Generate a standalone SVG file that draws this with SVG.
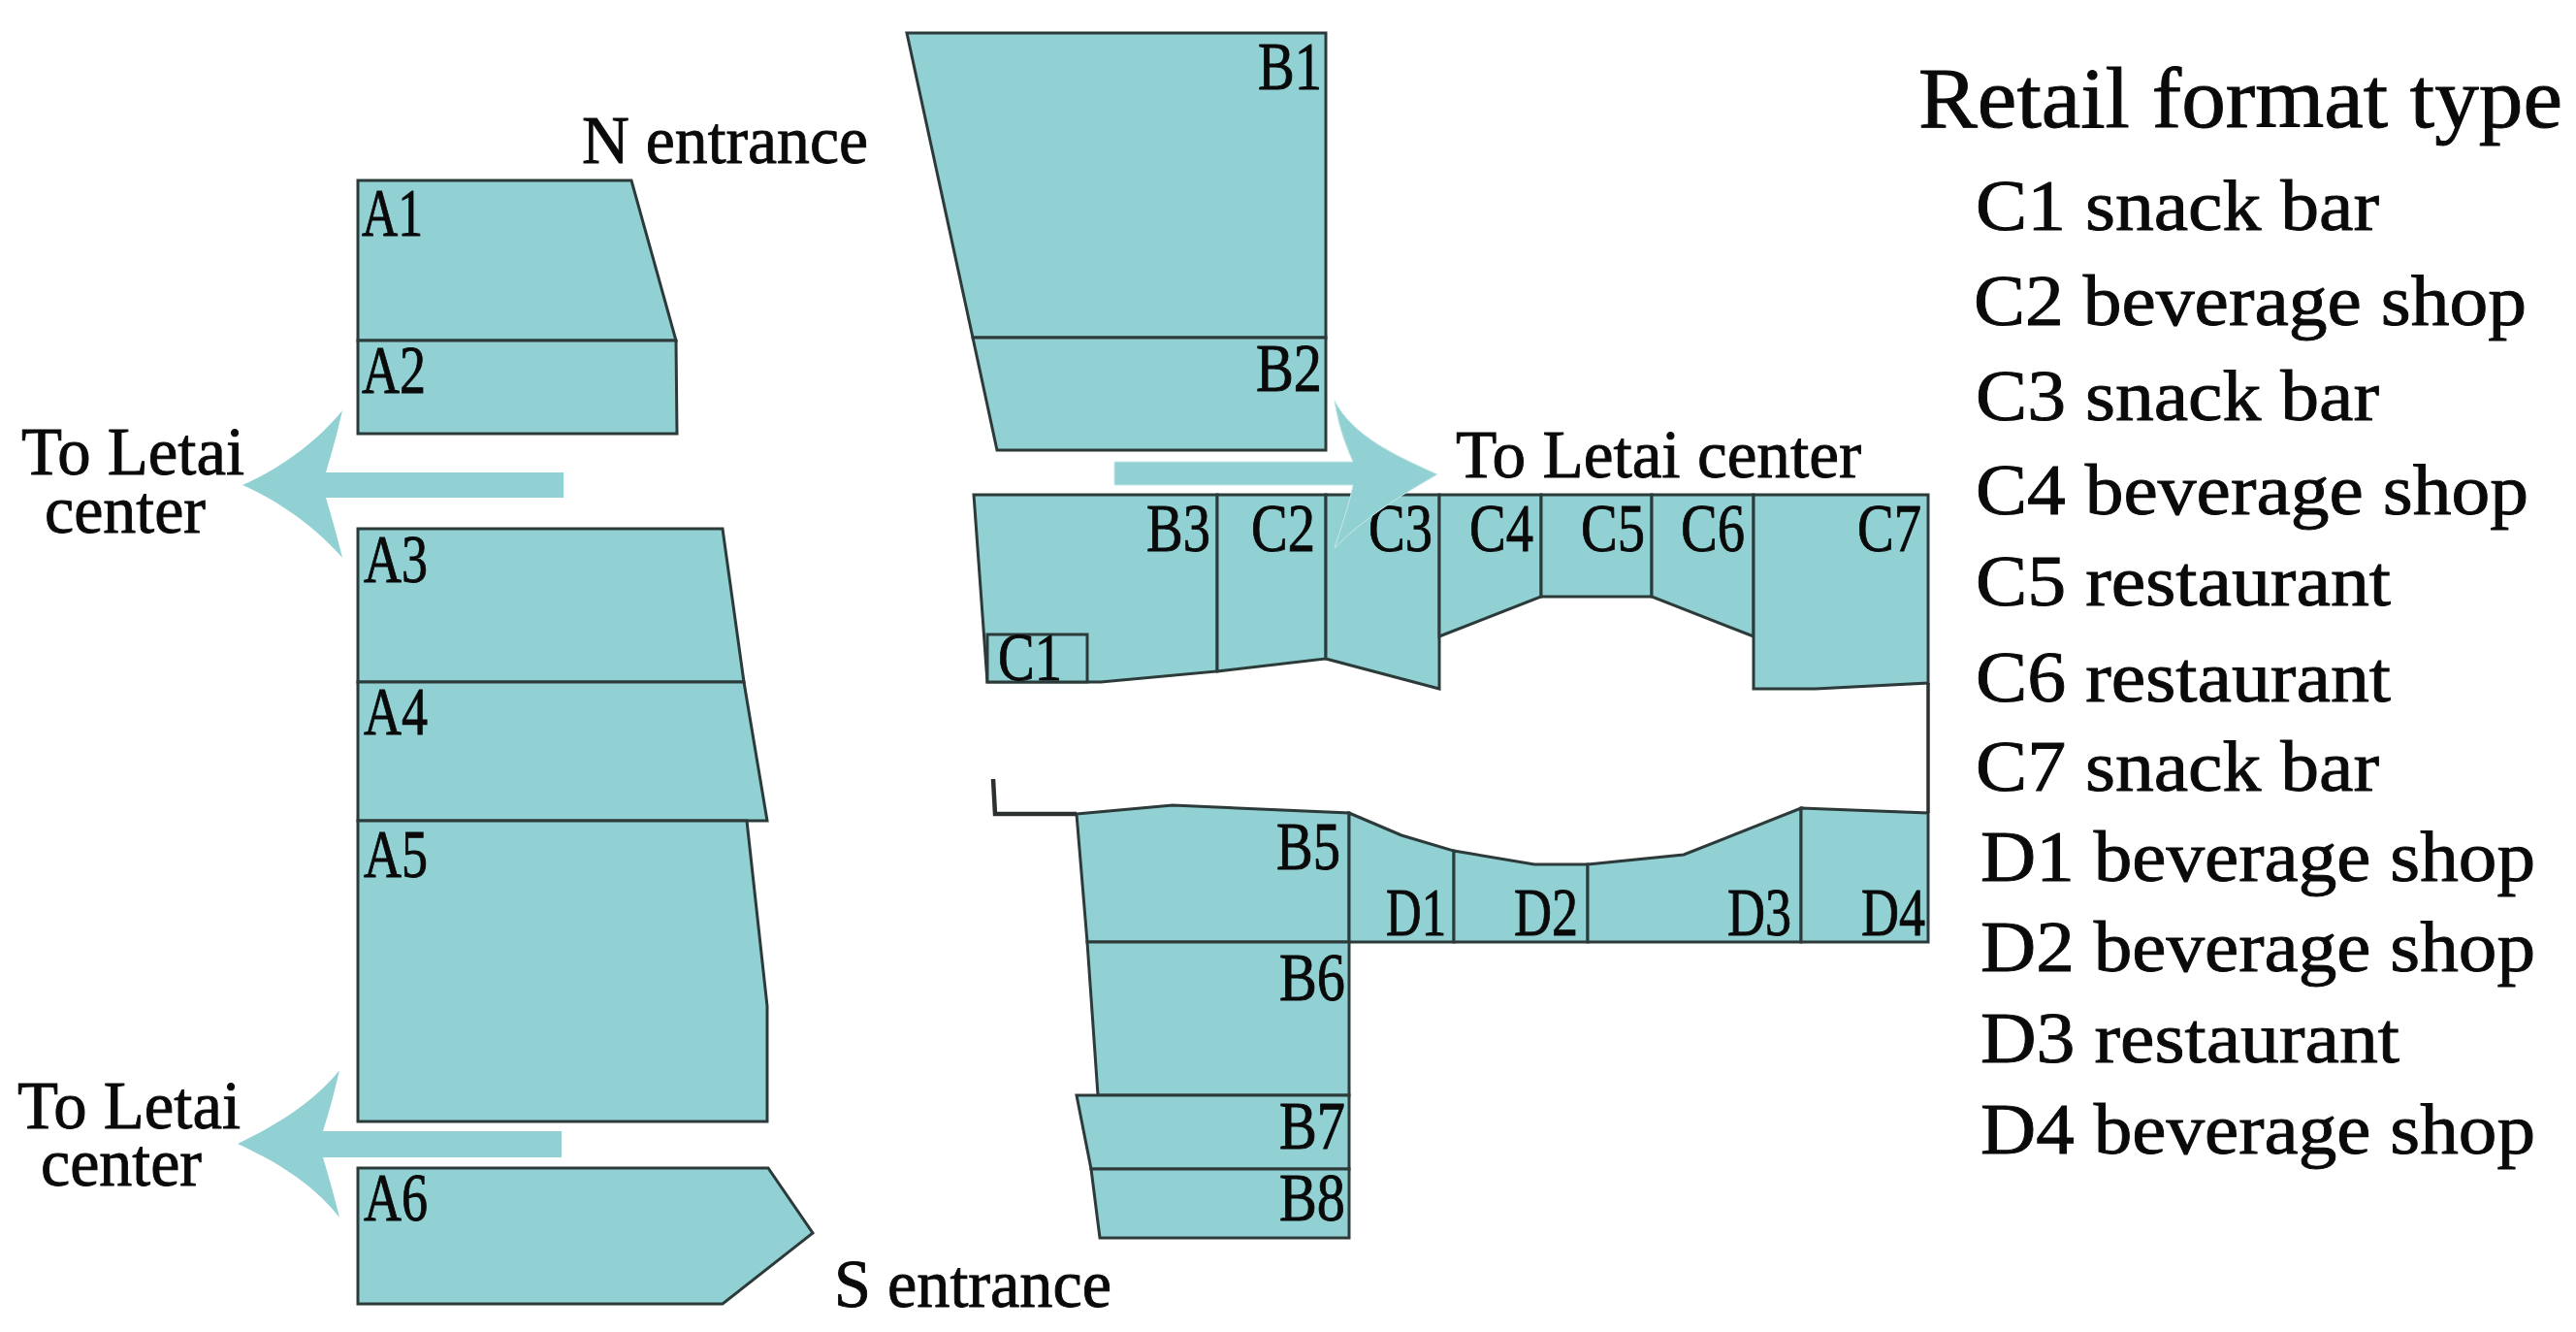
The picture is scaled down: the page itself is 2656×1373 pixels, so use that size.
<svg xmlns="http://www.w3.org/2000/svg" width="2656" height="1373" viewBox="0 0 2656 1373">
<style>
.s{fill:#92d1d3;stroke:#2c3a3a;stroke-width:3;stroke-linejoin:miter}
.a{fill:#92d1d3;stroke:none}
.l{fill:none;stroke:#2c3030;stroke-width:3.5}
text{font-family:"Liberation Serif","Times New Roman",serif;fill:#0a0a0a;stroke:#0a0a0a;stroke-width:.9}
.n{font-size:70px}
.t{font-size:70px}
.i{font-size:74px}
.h{font-size:88px}
</style>
<rect width="2656" height="1373" fill="#fff"/>
<g id="connectors">
<path class="a" d="M250 500C290 483 330 452 353 423C347 450 341 470 336 487H581V513H336C341 530 347 550 353 575C330 548 290 517 250 500Z"/>
<path class="a" d="M245 1179C285 1160 325 1135 350 1103C344 1130 338 1150 333 1166H579V1193H333C338 1210 344 1230 350 1255C325 1222 285 1197 245 1179Z"/>
</g>
<g id="A1"><path class="s" d="M369 186H651L697 351H369Z"/><text class="n" x="373" y="243" textLength="63" lengthAdjust="spacingAndGlyphs">A1</text></g>
<g id="A2"><path class="s" d="M369 351H697L698 447H369Z"/><text class="n" x="373" y="405" textLength="66" lengthAdjust="spacingAndGlyphs">A2</text></g>
<g id="A3"><path class="s" d="M369 545H745L767 703H369Z"/><text class="n" x="375" y="600" textLength="66" lengthAdjust="spacingAndGlyphs">A3</text></g>
<g id="A4"><path class="s" d="M369 703H767L791 846H369Z"/><text class="n" x="375" y="757" textLength="66" lengthAdjust="spacingAndGlyphs">A4</text></g>
<g id="A5"><path class="s" d="M369 846H770L791 1037V1156H369Z"/><text class="n" x="375" y="904" textLength="66" lengthAdjust="spacingAndGlyphs">A5</text></g>
<g id="A6"><path class="s" d="M369 1204H792L838 1271L745 1344H369Z"/><text class="n" x="375" y="1258" textLength="66" lengthAdjust="spacingAndGlyphs">A6</text></g>
<g id="B1"><path class="s" d="M935 34H1367V348H1003Z"/><text class="n" x="1297" y="92" textLength="66" lengthAdjust="spacingAndGlyphs">B1</text></g>
<g id="B2"><path class="s" d="M1003 348H1367V464H1028Z"/><text class="n" x="1295" y="403" textLength="68" lengthAdjust="spacingAndGlyphs">B2</text></g>
<g id="B3"><path class="s" d="M1004 510H1255V692L1135 703H1018Z"/><text class="n" x="1182" y="568" textLength="66" lengthAdjust="spacingAndGlyphs">B3</text></g>
<g id="C1"><path class="s" d="M1018 654H1121V703H1018Z"/><text class="n" x="1029" y="701" textLength="66" lengthAdjust="spacingAndGlyphs">C1</text></g>
<g id="C2"><path class="s" d="M1255 510H1367V679L1255 692Z"/><text class="n" x="1290" y="568" textLength="66" lengthAdjust="spacingAndGlyphs">C2</text></g>
<g id="C3"><path class="s" d="M1367 510H1484V710L1367 679Z"/><text class="n" x="1411" y="568" textLength="66" lengthAdjust="spacingAndGlyphs">C3</text></g>
<g id="C4"><path class="s" d="M1484 510H1589V615L1484 656Z"/><text class="n" x="1515" y="568" textLength="66" lengthAdjust="spacingAndGlyphs">C4</text></g>
<g id="C5"><path class="s" d="M1589 510H1703V615H1589Z"/><text class="n" x="1630" y="568" textLength="66" lengthAdjust="spacingAndGlyphs">C5</text></g>
<g id="C6"><path class="s" d="M1703 510H1808V656L1703 615Z"/><text class="n" x="1733" y="568" textLength="66" lengthAdjust="spacingAndGlyphs">C6</text></g>
<g id="C7"><path class="s" d="M1808 510H1988V704L1872 710H1808Z"/><text class="n" x="1915" y="568" textLength="66" lengthAdjust="spacingAndGlyphs">C7</text></g>
<g id="B5"><path class="s" d="M1110 839L1209 830L1391 838V971H1121Z"/><text class="n" x="1316" y="896" textLength="66" lengthAdjust="spacingAndGlyphs">B5</text></g>
<g id="D1"><path class="s" d="M1391 838L1445 861L1499 877V971H1391Z"/><text class="n" x="1429" y="964" textLength="62" lengthAdjust="spacingAndGlyphs">D1</text></g>
<g id="D2"><path class="s" d="M1499 877L1582 891H1637V971H1499Z"/><text class="n" x="1561" y="964" textLength="66" lengthAdjust="spacingAndGlyphs">D2</text></g>
<g id="D3"><path class="s" d="M1637 891L1736 881L1857 833V971H1637Z"/><text class="n" x="1781" y="964" textLength="66" lengthAdjust="spacingAndGlyphs">D3</text></g>
<g id="D4"><path class="s" d="M1857 833L1988 838V971H1857Z"/><text class="n" x="1919" y="964" textLength="66" lengthAdjust="spacingAndGlyphs">D4</text></g>
<g id="B6"><path class="s" d="M1121 971H1391V1129H1132Z"/><text class="n" x="1319" y="1031" textLength="68" lengthAdjust="spacingAndGlyphs">B6</text></g>
<g id="B7"><path class="s" d="M1110 1129H1391V1205H1125Z"/><text class="n" x="1319" y="1184" textLength="68" lengthAdjust="spacingAndGlyphs">B7</text></g>
<g id="B8"><path class="s" d="M1125 1205H1391V1276H1134Z"/><text class="n" x="1319" y="1258" textLength="68" lengthAdjust="spacingAndGlyphs">B8</text></g>
<g id="walls">
<path class="l" d="M1988 704V838"/>
<path class="l" style="stroke-width:4.5" d="M1024 803L1026 839H1110"/>
</g>
<path class="a" id="arrow-right" style="stroke:#c8e6e7;stroke-width:1" d="M1482 489C1440 470 1395 450 1376 413C1380 440 1388 460 1395 476H1149V500H1395C1390 525 1382 545 1376 565C1405 535 1445 510 1482 489Z"/>
<g id="labels">
<text class="t" x="600" y="168" textLength="295" lengthAdjust="spacingAndGlyphs">N entrance</text>
<text class="t" x="22" y="489" textLength="230" lengthAdjust="spacingAndGlyphs">To Letai</text>
<text class="t" x="46" y="549" textLength="166" lengthAdjust="spacingAndGlyphs">center</text>
<text class="t" x="18" y="1163" textLength="230" lengthAdjust="spacingAndGlyphs">To Letai</text>
<text class="t" x="42" y="1222" textLength="166" lengthAdjust="spacingAndGlyphs">center</text>
<text class="t" x="860" y="1347" textLength="286" lengthAdjust="spacingAndGlyphs">S entrance</text>
<text class="t" x="1501" y="492" textLength="418" lengthAdjust="spacingAndGlyphs">To Letai center</text>
</g>
<g id="legend">
<text class="h" x="1978" y="131" textLength="664" lengthAdjust="spacingAndGlyphs">Retail format type</text>
<text class="i" x="2037" y="237" textLength="416" lengthAdjust="spacingAndGlyphs">C1 snack bar</text>
<text class="i" x="2035" y="335" textLength="570" lengthAdjust="spacingAndGlyphs">C2 beverage shop</text>
<text class="i" x="2037" y="433" textLength="416" lengthAdjust="spacingAndGlyphs">C3 snack bar</text>
<text class="i" x="2037" y="530" textLength="570" lengthAdjust="spacingAndGlyphs">C4 beverage shop</text>
<text class="i" x="2037" y="624" textLength="428" lengthAdjust="spacingAndGlyphs">C5 restaurant</text>
<text class="i" x="2037" y="723" textLength="428" lengthAdjust="spacingAndGlyphs">C6 restaurant</text>
<text class="i" x="2037" y="815" textLength="416" lengthAdjust="spacingAndGlyphs">C7 snack bar</text>
<text class="i" x="2042" y="908" textLength="572" lengthAdjust="spacingAndGlyphs">D1 beverage shop</text>
<text class="i" x="2042" y="1001" textLength="572" lengthAdjust="spacingAndGlyphs">D2 beverage shop</text>
<text class="i" x="2042" y="1095" textLength="432" lengthAdjust="spacingAndGlyphs">D3 restaurant</text>
<text class="i" x="2042" y="1189" textLength="572" lengthAdjust="spacingAndGlyphs">D4 beverage shop</text>
</g>
</svg>
